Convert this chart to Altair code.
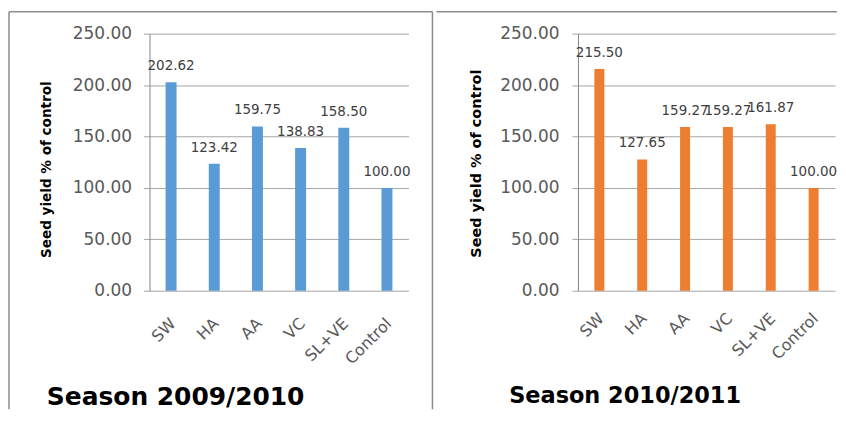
import altair as alt
import pandas as pd

categories = ["SW", "HA", "AA", "VC", "SL+VE", "Control"]
season1 = [202.62, 123.42, 159.75, 138.83, 158.50, 100.00]
season2 = [215.50, 127.65, 159.27, 159.27, 161.87, 100.00]
y_ticks = [0, 50, 100, 150, 200, 250]
titles = ["Season 2009/2010", "Season 2010/2011"]
colors = ["#5B9BD5", "#ED7D31"]

FONT = "DejaVu Sans"
BORDER = "#8c8c8c"
one = pd.DataFrame({"k": [0]})


def panel(values, color, width, bar_size, title, title_size, title_x, title_y,
          ytitle_size, ytitle_x, ytitle_y, ylab_pad, xlab_pad, borders):
    df = pd.DataFrame({"cat": categories, "val": values})
    x = alt.X("cat:N", sort=categories,
              scale=alt.Scale(paddingInner=0, paddingOuter=0),
              axis=alt.Axis(title=None, labelAngle=315, labelAlign="right",
                            labelBaseline="middle", labelPadding=xlab_pad,
                            ticks=False, domain=False, labelFontSize=16,
                            labelColor="#595959", labelFont=FONT, labelOffset=2))
    y = alt.Y("val:Q", scale=alt.Scale(domain=[0, 250], nice=False),
              axis=alt.Axis(values=y_ticks, format=".2f",
                            title="Seed yield % of control",
                            titleFont=FONT, titleFontSize=ytitle_size,
                            titleFontWeight="bold", titleColor="black",
                            titleAngle=270, titleX=ytitle_x, titleY=ytitle_y,
                            titleAlign="center", titleBaseline="middle",
                            labelFont=FONT, labelFontSize=17,
                            labelColor="#595959", labelPadding=ylab_pad,
                            tickSize=6, tickColor="#a6a6a6",
                            gridColor="#a6a6a6", domainColor="#868686"))
    bars = alt.Chart(df).mark_bar(size=bar_size, color=color).encode(x=x, y=y)
    labels = alt.Chart(df).mark_text(
        dy=-12, baseline="alphabetic", fontSize=13.5, font=FONT,
        color="#404040").encode(x=x, y=y, text=alt.Text("val:Q", format=".2f"))
    ttl = alt.Chart(one).mark_text(
        text=title, align="left", baseline="alphabetic", fontSize=title_size,
        fontWeight="bold", font=FONT, color="black").encode(
        x=alt.value(title_x), y=alt.value(title_y))
    layers = [bars, labels, ttl]
    for b in borders:
        layers.append(alt.Chart(one).mark_rule(color=BORDER, strokeWidth=1.5)
                      .encode(**b))
    return alt.layer(*layers).properties(width=width, height=258)


left = panel(season1, colors[0], 260, 11, titles[0], 25, -103, 373,
             13.6, -103, 136, 12, 30,
             [dict(x=alt.value(-141), y=alt.value(-22), y2=alt.value(377)),
              dict(x=alt.value(284), y=alt.value(-22), y2=alt.value(377)),
              dict(x=alt.value(-141), x2=alt.value(284), y=alt.value(-22))])
right = panel(season2, colors[1], 258, 10, titles[1], 22.5, -69, 371,
              14.5, -102, 130, 13, 25,
              [dict(x=alt.value(-142), x2=alt.value(260), y=alt.value(-22))])

chart = alt.hconcat(left, right, spacing=2).properties(
    padding={"left": 0, "top": 2, "right": 0, "bottom": 0},
    background="white"
).configure_view(strokeWidth=0)

chart.save("out.html", embed_options={"renderer": "svg", "actions": False})
